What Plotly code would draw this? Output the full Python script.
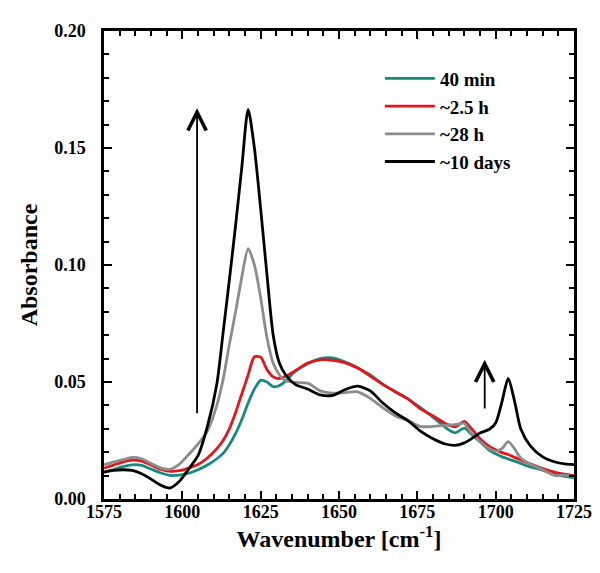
import plotly.graph_objects as go

wavenumber = [1575, 1578, 1581, 1584, 1587, 1590, 1593, 1596, 1599, 1602, 1605, 1608, 1611, 1613,
              1615, 1617, 1619, 1621, 1623, 1625, 1627, 1629, 1631, 1633, 1636, 1640, 1644, 1648,
              1652, 1656, 1660, 1664, 1668, 1672, 1676, 1680, 1684, 1687, 1690, 1692, 1695, 1698,
              1700, 1702, 1704, 1706, 1708, 1711, 1715, 1719, 1722, 1725]

abs_40min = [0.0115, 0.0125, 0.0138, 0.0146, 0.0144, 0.0128, 0.0112, 0.0101, 0.0102, 0.0110, 0.0125,
             0.0145, 0.0172, 0.0195, 0.0232, 0.0280, 0.0340, 0.0410, 0.0470, 0.0507, 0.0500, 0.0480,
             0.0485, 0.0505, 0.0545, 0.0578, 0.0600, 0.0603, 0.0585, 0.0560, 0.0530, 0.0490, 0.0458,
             0.0428, 0.0390, 0.0350, 0.0305, 0.0283, 0.0303, 0.0280, 0.0245, 0.0208, 0.0193, 0.0180,
             0.0171, 0.0162, 0.0152, 0.0137, 0.0123, 0.0103, 0.0097, 0.0090]

abs_2_5h = [0.0132, 0.0145, 0.0158, 0.0166, 0.0162, 0.0145, 0.0127, 0.0118, 0.0121, 0.0132, 0.0147,
            0.0175, 0.0215, 0.0250, 0.0300, 0.0370, 0.0450, 0.0530, 0.0608, 0.0606, 0.0553, 0.0522,
            0.0515, 0.0525, 0.0548, 0.0581, 0.0595, 0.0593, 0.0582, 0.0560, 0.0525, 0.0490, 0.0458,
            0.0428, 0.0385, 0.0355, 0.0322, 0.0308, 0.0332, 0.0305, 0.0258, 0.0225, 0.0210, 0.0198,
            0.0190, 0.0178, 0.0167, 0.0150, 0.0130, 0.0114, 0.0106, 0.0100]

abs_28h = [0.0147, 0.0158, 0.0168, 0.0178, 0.0172, 0.0152, 0.0133, 0.0127, 0.0148, 0.0190, 0.0235,
           0.0290, 0.0400, 0.0510, 0.0660, 0.0800, 0.0950, 0.1070, 0.1000, 0.0860, 0.0690, 0.0580,
           0.0530, 0.0505, 0.0498, 0.0495, 0.0462, 0.0452, 0.0455, 0.0458, 0.0430, 0.0390, 0.0355,
           0.0335, 0.0310, 0.0310, 0.0315, 0.0318, 0.0323, 0.0285, 0.0245, 0.0215, 0.0205, 0.0215,
           0.0245, 0.0215, 0.0175, 0.0150, 0.0125, 0.0100, 0.0102, 0.0095]

abs_10days = [0.0115, 0.0122, 0.0125, 0.0122, 0.0108, 0.0085, 0.0060, 0.0047, 0.0075, 0.0128, 0.0185,
              0.0310, 0.0490, 0.0710, 0.0935, 0.1170, 0.1420, 0.1665, 0.1500, 0.1240, 0.0960, 0.0700,
              0.0580, 0.0530, 0.0490, 0.0470, 0.0445, 0.0443, 0.0468, 0.0482, 0.0462, 0.0410, 0.0368,
              0.0335, 0.0290, 0.0258, 0.0235, 0.0229, 0.0240, 0.0255, 0.0282, 0.0298, 0.0325, 0.0415,
              0.0515, 0.0420, 0.0300, 0.0228, 0.0180, 0.0158, 0.0150, 0.0147]

series_names = ["40 min", "~2.5 h", "~28 h", "~10 days"]
series_values = [abs_40min, abs_2_5h, abs_28h, abs_10days]
series_colors = ["#178a80", "#e3161c", "#8c8c8c", "#000000"]

arrow_big = dict(x=1604.7, y_from=0.036, y_to=0.167)
arrow_small = dict(x=1696.5, y_from=0.038, y_to=0.0595)

FONT = "Liberation Serif, Times New Roman, serif"

fig = go.Figure()
for name, vals, col in zip(series_names, series_values, series_colors):
    fig.add_trace(go.Scatter(x=wavenumber, y=vals, name=name, mode="lines",
                             line=dict(color=col, width=2.8, shape="spline", smoothing=0.7)))

for a in (arrow_big, arrow_small):
    fig.add_annotation(x=a["x"], y=a["y_to"], ax=a["x"], ay=a["y_from"],
                       xref="x", yref="y", axref="x", ayref="y",
                       showarrow=True, arrowhead=5, arrowsize=2.0, arrowwidth=1.8,
                       arrowcolor="black", text="")

axis_common = dict(showline=True, linewidth=2.5, linecolor="black", mirror="ticks",
                   ticks="inside", ticklen=8, tickwidth=2, tickcolor="black",
                   showgrid=False, zeroline=False,
                   tickfont=dict(family=FONT, size=18, color="black", weight="bold"))

fig.update_xaxes(range=[1575, 1725], dtick=25, tick0=1575,
                 minor=dict(dtick=5, ticks="inside", ticklen=5, tickwidth=1.5, tickcolor="black"),
                 title=dict(text="Wavenumber [cm<sup>-1</sup>]", standoff=6,
                            font=dict(family=FONT, size=24, color="black", weight="bold")),
                 ticklabelstandoff=-5,
                 **axis_common)
fig.update_yaxes(range=[0, 0.2], dtick=0.05, tickformat=".2f",
                 minor=dict(dtick=0.01, ticks="inside", ticklen=5, tickwidth=1.5, tickcolor="black"),
                 title=dict(text="Absorbance", standoff=10,
                            font=dict(family=FONT, size=24, color="black", weight="bold")),
                 ticklabelstandoff=12,
                 **axis_common)

fig.update_layout(
    width=600, height=573,
    margin=dict(l=96, r=34, t=23, b=82, autoexpand=False),
    paper_bgcolor="white", plot_bgcolor="white",
    showlegend=True,
    legend=dict(x=0.587, y=0.939, xanchor="left", yanchor="top", bgcolor="rgba(0,0,0,0)",
                font=dict(family=FONT, size=19, color="black", weight="bold"),
                itemwidth=50, tracegroupgap=0),
)

fig.write_html("out.html")
